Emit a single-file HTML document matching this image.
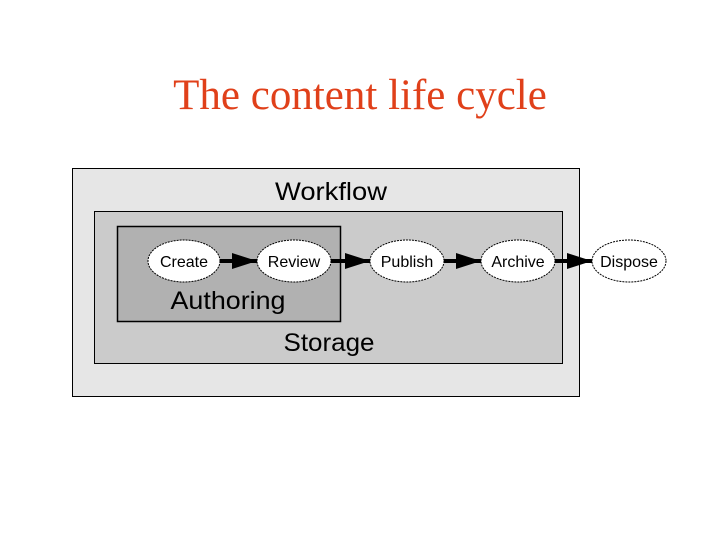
<!DOCTYPE html>
<html><head><style>body{margin:0;background:#fff;}</style></head><body>
<svg width="720" height="540" xmlns="http://www.w3.org/2000/svg">
<text x="360" y="109" text-anchor="middle" font-family="Liberation Serif, serif" font-size="43" fill="#e0401a">The content life cycle</text>
<rect x="72.5" y="168.5" width="507" height="228" fill="#e6e6e6" stroke="#000"/>
<text x="331" y="200" text-anchor="middle" font-family="Liberation Sans, sans-serif" font-size="25" textLength="112" lengthAdjust="spacingAndGlyphs">Workflow</text>
<rect x="94.5" y="211.5" width="468" height="152" fill="#cbcbcb" stroke="#000"/>
<rect x="117.5" y="226.5" width="223" height="95" fill="#b1b1b1" stroke="#000" stroke-width="1.5"/>
<text x="228" y="309" text-anchor="middle" font-family="Liberation Sans, sans-serif" font-size="25" textLength="115" lengthAdjust="spacingAndGlyphs">Authoring</text>
<text x="329" y="351" text-anchor="middle" font-family="Liberation Sans, sans-serif" font-size="25" textLength="91" lengthAdjust="spacingAndGlyphs">Storage</text>
<g stroke="#000" stroke-width="4">
<line x1="220" y1="261" x2="257" y2="261"/><line x1="331" y1="261" x2="370" y2="261"/>
<line x1="444" y1="261" x2="481" y2="261"/><line x1="555" y1="261" x2="592" y2="261"/>
</g>
<g fill="#000">
<polygon points="232,253 257,261 232,269"/><polygon points="345,253 370,261 345,269"/>
<polygon points="456,253 481,261 456,269"/><polygon points="567,253 592,261 567,269"/>
</g>
<g fill="#fff" stroke="#000" stroke-width="1" stroke-dasharray="2,1">
<ellipse cx="184" cy="261" rx="36" ry="21"/><ellipse cx="294" cy="261" rx="37" ry="21"/>
<ellipse cx="407" cy="261" rx="37" ry="21"/><ellipse cx="518" cy="261" rx="37" ry="21"/>
<ellipse cx="629" cy="261" rx="37" ry="21"/>
</g>
<g font-family="Liberation Sans, sans-serif" font-size="16" text-anchor="middle">
<text x="184" y="267">Create</text><text x="294" y="267">Review</text>
<text x="407" y="267">Publish</text><text x="518" y="267">Archive</text><text x="629" y="267">Dispose</text>
</g>
</svg>
</body></html>
